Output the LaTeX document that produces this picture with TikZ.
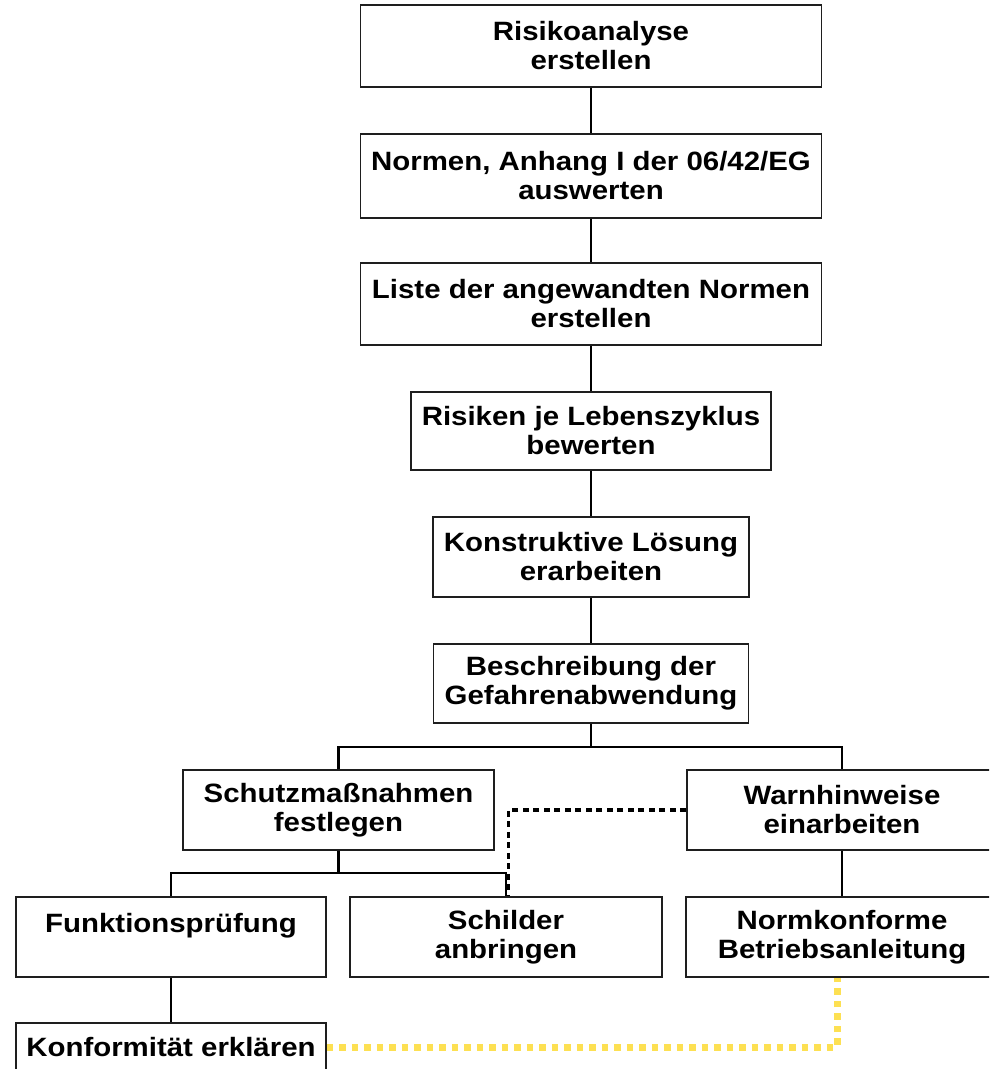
\documentclass[tikz,border=0pt]{standalone}
\usepackage{fontspec}
\newfontfamily\boxfont[FakeStretch=1.11]{Liberation Sans}
\definecolor{dotyellow}{RGB}{253,224,82}
\definecolor{boxline}{RGB}{30,30,30}
\begin{document}
\begin{tikzpicture}[x=1pt,y=-1pt,
  box/.style={draw=boxline, line width=1.6pt, inner sep=0pt, align=center,
    font=\boxfont\bfseries\fontsize{26.5}{29}\selectfont},
  conn/.style={line width=2.1pt, black},
  blackdots/.style={line width=3.8pt, black, dash pattern=on 6pt off 4.5pt},
  yellowdots/.style={line width=7pt, dotyellow, dash pattern=on 6.5pt off 6pt}]
\clip (0,0) rectangle (989,1069);
\fill[white] (0,0) rectangle (989,1069);

\node[box, minimum width=461pt, minimum height=82pt] (b1) at (591,46) {Risikoanalyse\\erstellen};
\node[box, minimum width=461pt, minimum height=84pt] (b2) at (591,176) {Normen, Anhang I der 06/42/EG\\auswerten};
\node[box, minimum width=461pt, minimum height=82pt] (b3) at (591,304) {Liste der angewandten Normen\\erstellen};
\node[box, minimum width=360pt, minimum height=78pt] (b4) at (591,431) {Risiken je Lebenszyklus\\bewerten};
\node[box, minimum width=316pt, minimum height=80pt] (b5) at (591,557) {Konstruktive Lösung\\erarbeiten};
\node[box, minimum width=315pt, minimum height=79pt] (b6) at (591,683.5) {Beschreibung der\\Gefahrenabwendung};
\node[box, minimum width=311pt, minimum height=80pt] (b7) at (338.5,810) {Schutzmaßnahmen\\festlegen};
\node[box, minimum width=310pt, minimum height=80pt] (b8) at (842,810) {Warnhinweise\\einarbeiten};
\node[box, minimum width=310pt, minimum height=80pt] (b9) at (171,937) {Funktionsprüfung\\\mbox{}};
\node[box, minimum width=312pt, minimum height=80pt] (b10) at (506,937) {Schilder\\anbringen};
\node[box, minimum width=312pt, minimum height=80pt] (b11) at (842,937) {Normkonforme\\Betriebsanleitung};
\node[box, minimum width=310pt, minimum height=48pt] (b12) at (171,1047) {Konformität erklären};

\draw[conn] (b1.south) -- (b2.north);
\draw[conn] (b2.south) -- (b3.north);
\draw[conn] (b3.south) -- (b4.north);
\draw[conn] (b4.south) -- (b5.north);
\draw[conn] (b5.south) -- (b6.north);
\coordinate (j1) at (591,747);
\draw[conn] (b6.south) -- (j1);
\draw[conn] (b7.north) |- (j1) -| (b8.north);
\coordinate (j2) at (338.5,873);
\draw[conn] (b7.south) -- (j2);
\draw[conn] (b9.north) |- (j2) -| (b10.north);
\draw[conn] (b8.south) -- (b11.north);
\draw[conn] (b9.south) -- (b12.north);

\draw[blackdots] (b8.west) -| ([xshift=2.5pt]b10.north);
\draw[yellowdots] (b12.east) -| ([xshift=-5pt]b11.south);
\end{tikzpicture}
\end{document}
